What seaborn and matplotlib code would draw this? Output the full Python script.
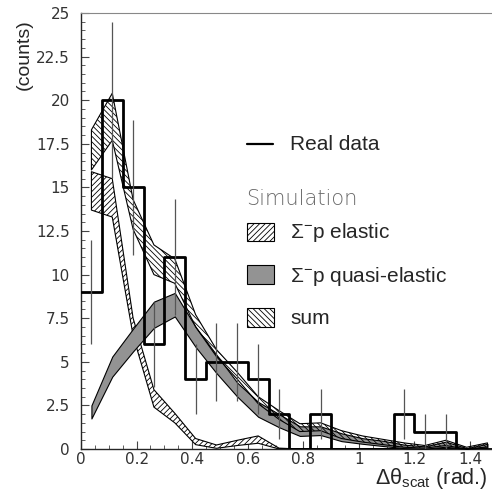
import numpy as np
import pandas as pd
import matplotlib
matplotlib.use("Agg")
import matplotlib.pyplot as plt
from matplotlib.patches import Rectangle
from matplotlib.lines import Line2D
import seaborn as sns

# ---------------- data ----------------
bin_lo, bin_hi, n_bins = 0.0, 1.5, 20
counts = [9, 20, 15, 6, 11, 4, 5, 5, 4, 2, 0, 2, 0, 0, 0, 2, 1, 1, 0, 0]

elastic_hi = [15.9, 15.5, 7.5, 3.4, 2.05, 0.6, 0.23, 0.5, 0.75, 0.05, 0, 0, 0, 0, 0, 0, 0, 0, 0, 0]
elastic_lo = [13.7, 13.3, 6.5, 2.4, 1.5, 0.25, 0.04, 0.2, 0.33, 0.0, 0, 0, 0, 0, 0, 0, 0, 0, 0, 0]

quasi_hi = [2.5, 5.3, 6.9, 8.45, 8.95, 7.0, 5.4, 3.8, 2.7, 2.0, 1.3, 1.3, 0.9, 0.62, 0.47, 0.25, 0.15, 0.42, 0.05, 0.3]
quasi_lo = [1.75, 4.15, 5.6, 6.95, 7.6, 5.85, 4.35, 3.0, 1.85, 1.25, 0.75, 0.8, 0.45, 0.3, 0.17, 0.05, 0.02, 0.13, 0.0, 0.1]

sum_hi = [18.3, 20.4, 14.3, 11.7, 10.9, 7.7, 5.7, 4.4, 3.0, 2.2, 1.45, 1.5, 1.05, 0.75, 0.55, 0.35, 0.2, 0.5, 0.1, 0.35]
sum_lo = [16.0, 17.7, 12.6, 10.0, 9.5, 7.0, 5.3, 4.0, 2.6, 1.7, 1.0, 1.05, 0.6, 0.4, 0.25, 0.1, 0.05, 0.2, 0.0, 0.12]

legend_labels = ["Real data", "Simulation", r"$\Sigma^{-}$p elastic",
                 r"$\Sigma^{-}$p quasi-elastic", "sum"]
xlabel = r"$\mathrm{\Delta\theta}_{\mathrm{scat}}$ (rad.)"
ylabel = "(counts)"

# ---------------- style ----------------
sns.set_style("ticks")
plt.rcParams["font.family"] = ["DejaVu Sans"]
plt.rcParams["mathtext.fontset"] = "custom"
plt.rcParams["mathtext.rm"] = "Liberation Sans"
plt.rcParams["mathtext.it"] = "Liberation Sans"
plt.rcParams["mathtext.bf"] = "Liberation Sans:bold"
plt.rcParams["hatch.linewidth"] = 0.6

W, H = 492, 491
fig = plt.figure(figsize=(W / 100, H / 100), dpi=100)

def fx(px):
    return px / W

def fy(py):
    return 1 - py / H

ax = fig.add_axes([fx(81), fy(449), fx(492) - fx(81), fy(13) - fy(449)])

edges = np.linspace(bin_lo, bin_hi, n_bins + 1)
centers = 0.5 * (edges[:-1] + edges[1:])
cnt = np.array(counts, dtype=float)
df = pd.DataFrame({"theta": centers, "counts": cnt})

# simulation bands
ax.fill_between(centers, elastic_lo, elastic_hi, facecolor="white",
                edgecolor="black", hatch="//////", linewidth=0.8, zorder=2)
ax.fill_between(centers, quasi_lo, quasi_hi, facecolor="#939393",
                edgecolor="black", linewidth=0.8, zorder=3)
ax.fill_between(centers, sum_lo, sum_hi, facecolor="none",
                edgecolor="black", hatch="\\\\\\\\\\\\", linewidth=0.8, zorder=4)

# real data histogram
sns.histplot(data=df, x="theta", weights="counts", bins=n_bins,
             binrange=(bin_lo, bin_hi), element="step", fill=False,
             color="black", linewidth=2.0, ax=ax, zorder=5)

# error bars sqrt(n)
mask = cnt > 0
err = np.sqrt(cnt[mask])
ax.vlines(centers[mask], cnt[mask] - err, cnt[mask] + err,
          color="#555555", linewidth=0.9, zorder=6)

ax.set_xlim(0, (492 - 81) / 277.9)
ax.set_ylim(0, 25)
ax.set_xlabel("")
ax.set_ylabel("")
ax.set_xticks(np.arange(0, 1.41, 0.2))
ax.set_xticklabels(["0", "0.2", "0.4", "0.6", "0.8", "1", "1.2", "1.4"])
ax.set_xticks(np.arange(0, 1.5, 0.05), minor=True)
ax.set_yticks(np.arange(0, 25.1, 2.5))
ax.set_yticklabels(["0", "2.5", "5", "7.5", "10", "12.5", "15", "17.5", "20", "22.5", "25"])
ax.set_yticks(np.arange(0, 25.1, 0.5), minor=True)
ax.tick_params(axis="both", which="major", direction="in", length=6,
               width=0.8, labelsize=11, labelcolor="#333333", color="#444444")
ax.tick_params(axis="both", which="minor", direction="in", length=3,
               width=0.6, color="#444444")
ax.tick_params(axis="y", which="major", pad=8)
ax.tick_params(axis="x", which="major", pad=2.5)
ax.spines["right"].set_visible(False)
ax.spines["top"].set_color("#888888")
ax.spines["top"].set_linewidth(0.8)
ax.spines["left"].set_linewidth(1.0)
ax.spines["bottom"].set_linewidth(1.0)

# axis labels
fig.text(fx(24), fy(55), ylabel, rotation=90, ha="center", va="center",
         fontsize=14, family="Liberation Sans")
fig.text(fx(488), fy(484), xlabel, ha="right", va="baseline",
         fontsize=15.5, family="Liberation Sans")

# legend (drawn manually)
fig.add_artist(Line2D([fx(246.7), fx(273.3)], [fy(144), fy(144)],
                      color="black", linewidth=1.6))
fig.text(fx(290), fy(144.5), legend_labels[0], ha="left", va="center",
         fontsize=15, family="Liberation Sans")
fig.text(fx(246), fy(199), legend_labels[1], ha="left", va="center",
         fontsize=15, color="#6a6a6a", fontweight="light")

def legend_patch(y0, y1, **kw):
    r = Rectangle((fx(246.7), fy(y1)), fx(274.3) - fx(246.7), fy(y0) - fy(y1),
                  transform=fig.transFigure, linewidth=0.8, **kw)
    fig.add_artist(r)

legend_patch(222.7, 240.7, facecolor="white", edgecolor="black", hatch="//////")
fig.text(fx(290), fy(233), legend_labels[2], ha="left", va="center",
         fontsize=15, family="Liberation Sans")
legend_patch(265, 284.3, facecolor="#939393", edgecolor="black")
fig.text(fx(290), fy(276), legend_labels[3], ha="left", va="center",
         fontsize=15, family="Liberation Sans")
legend_patch(308.3, 327.3, facecolor="white", edgecolor="black", hatch="\\\\\\\\\\\\")
fig.text(fx(290), fy(319), legend_labels[4], ha="left", va="center",
         fontsize=15, family="Liberation Sans")

fig.savefig("out.png", dpi=100)
